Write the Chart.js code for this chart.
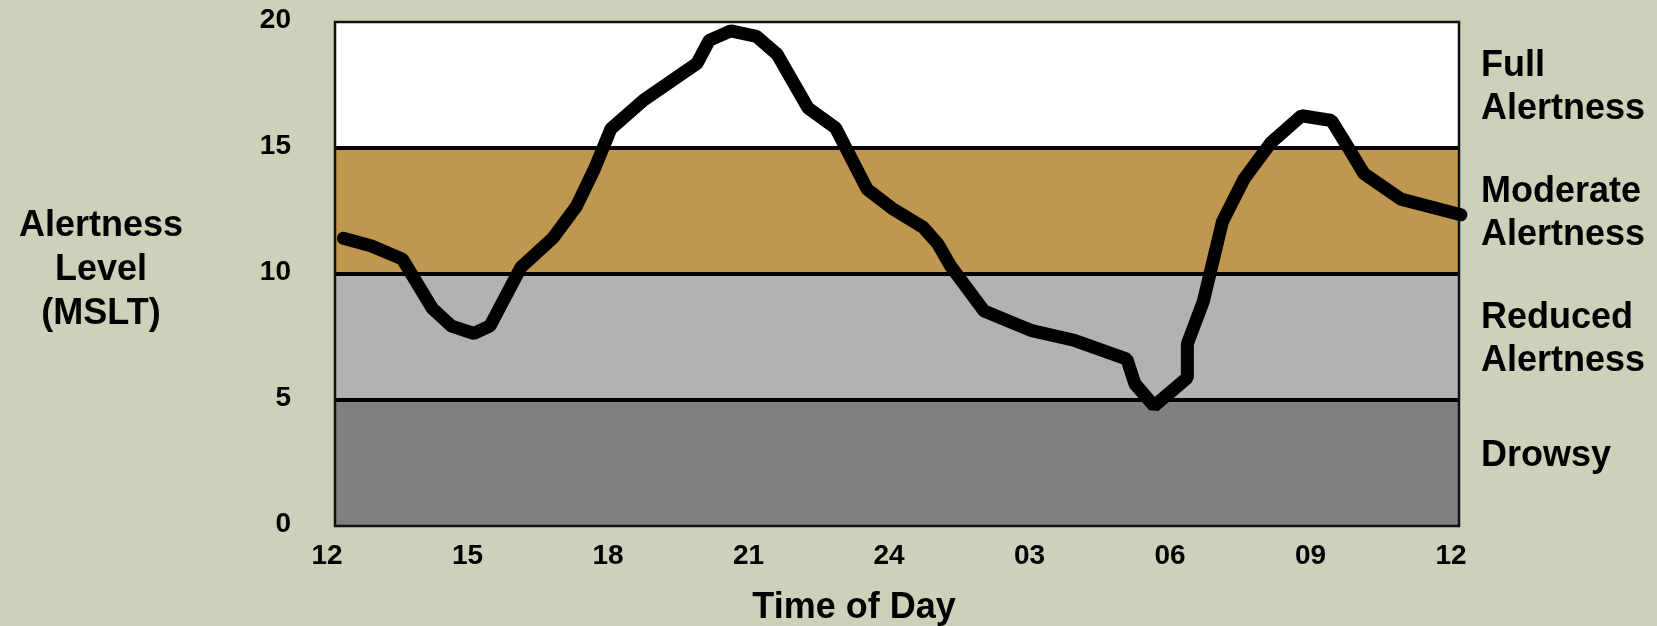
<!DOCTYPE html>
<html>
<head>
<meta charset="utf-8">
<script src="https://cdn.jsdelivr.net/npm/chart.js@4.4.1/dist/chart.umd.min.js"></script>
<style>
  html, body { margin: 0; padding: 0; background: #CDD1BA; }
  canvas { display: block; }
</style>
</head>
<body>
<canvas id="alertChart" width="1657" height="626"></canvas>
<script>
// Clock hour of each reading (12 = noon, 24 = midnight, 36 = next noon)
const hours = [12.18, 12.78, 13.44, 14.08, 14.49, 14.97, 15.31, 15.97, 16.66, 17.15,
               17.55, 17.89, 18.59, 19.73, 19.99, 20.45, 21.00, 21.44, 22.10, 22.69,
               23.36, 23.89, 24.56, 24.87, 25.15, 25.86, 26.88, 27.80, 28.91, 29.08,
               29.49, 30.20, 30.20, 30.54, 30.95, 31.41, 31.98, 32.64, 33.28, 33.64,
               33.97, 34.76, 36.04];
// Alertness level (MSLT) at each reading
const alertness = [11.42, 11.11, 10.59, 8.63, 7.93, 7.64, 7.94, 10.27, 11.44, 12.67,
                   14.21, 15.76, 16.90, 18.36, 19.27, 19.65, 19.43, 18.72, 16.59, 15.79,
                   13.37, 12.61, 11.85, 11.20, 10.30, 8.53, 7.75, 7.36, 6.62, 5.64,
                   4.76, 5.88, 7.23, 8.91, 12.08, 13.77, 15.20, 16.28, 16.09, 15.00,
                   13.98, 12.97, 12.35];

const tickHours = [12, 15, 18, 21, 24, 27, 30, 33, 36];
const tickLabels = ['12', '15', '18', '21', '24', '03', '06', '09', '12'];
const levelTicks = [0, 5, 10, 15, 20];

// Alertness zones
const bandLow = [0, 5, 10, 15];
const bandHigh = [5, 10, 15, 20];
const bandColors = ['#808080', '#B2B2B2', '#C0974F', '#FFFFFF'];
const bandLabels = [['Drowsy'], ['Reduced', 'Alertness'], ['Moderate', 'Alertness'], ['Full', 'Alertness']];

const yTitleLines = ['Alertness', 'Level', '(MSLT)'];
const xTitleText = 'Time of Day';

const FONT = '"Liberation Sans", Arial, sans-serif';

const zonePlugin = {
  id: 'zones',
  beforeDraw(chart) {
    const { ctx, chartArea: a, scales: { y } } = chart;
    ctx.save();
    bandLow.forEach((lo, i) => {
      const top = y.getPixelForValue(bandHigh[i]);
      const bottom = y.getPixelForValue(lo);
      ctx.fillStyle = bandColors[i];
      ctx.fillRect(a.left, top, a.right - a.left, bottom - top);
    });
    ctx.restore();
  },
  beforeDatasetsDraw(chart) {
    const { ctx, chartArea: a } = chart;
    ctx.save();
    ctx.strokeStyle = '#111111';
    ctx.lineWidth = 2.5;
    ctx.strokeRect(a.left, a.top, a.right - a.left, a.bottom - a.top);
    ctx.restore();
  },
  afterDraw(chart) {
    const { ctx, chartArea: a, scales: { y } } = chart;
    const lineH = 43;
    const capHalf = 12.9;
    const singleLineLift = 10;
    ctx.save();
    ctx.fillStyle = '#000000';
    ctx.font = 'bold 36px ' + FONT;
    ctx.textBaseline = 'alphabetic';

    // zone names to the right of the plot
    ctx.textAlign = 'left';
    bandLabels.forEach((lines, i) => {
      let cy = y.getPixelForValue((bandLow[i] + bandHigh[i]) / 2);
      if (lines.length === 1) cy -= singleLineLift;
      const first = cy - (lines.length - 1) * lineH / 2;
      lines.forEach((t, k) => ctx.fillText(t, a.right + 22, first + k * lineH + capHalf));
    });

    // vertical axis title
    ctx.textAlign = 'center';
    const titleH = 44;
    const cy = (a.top + a.bottom) / 2 - 7;
    const first = cy - (yTitleLines.length - 1) * titleH / 2;
    yTitleLines.forEach((t, k) => ctx.fillText(t, 101, first + k * titleH + capHalf));

    // horizontal axis title
    ctx.fillText(xTitleText, (a.left + a.right) / 2 - 43, 618);
    ctx.restore();
  }
};

new Chart(document.getElementById('alertChart'), {
  type: 'line',
  data: {
    datasets: [{
      data: hours.map((h, i) => ({ x: h, y: alertness[i] })),
      borderColor: '#000000',
      borderWidth: 13,
      borderCapStyle: 'round',
      borderJoinStyle: 'bevel',
      pointRadius: 0,
      tension: 0,
      fill: false,
      clip: false
    }]
  },
  options: {
    responsive: false,
    devicePixelRatio: 1,
    animation: false,
    layout: { padding: { top: 22, right: 198, bottom: 0, left: 0 } },
    plugins: { legend: { display: false }, tooltip: { enabled: false } },
    scales: {
      x: {
        type: 'linear',
        min: 12,
        max: 36,
        afterBuildTicks(scale) { scale.ticks = tickHours.map(v => ({ value: v })); },
        afterFit(scale) {
          scale.height = 100;
          scale.paddingLeft = 0;
          scale.paddingRight = 0;
        },
        grid: { display: false, drawTicks: false },
        border: { display: false },
        ticks: {
          autoSkip: false,
          maxRotation: 0,
          minRotation: 0,
          padding: 13,
          labelOffset: -8,
          color: '#000000',
          font: { family: FONT, size: 28, weight: 'bold' },
          callback: (v) => tickLabels[tickHours.indexOf(v)]
        }
      },
      y: {
        min: 0,
        max: 20,
        afterBuildTicks(scale) { scale.ticks = levelTicks.map(v => ({ value: v })); },
        afterFit(scale) {
          scale.width = 335;
          scale.paddingTop = 0;
          scale.paddingBottom = 0;
        },
        grid: {
          drawTicks: false,
          lineWidth: 4,
          color: (ctx) => (ctx.tick && (ctx.tick.value === 0 || ctx.tick.value === 20)) ? 'rgba(0,0,0,0)' : '#000000'
        },
        border: { display: false },
        ticks: {
          padding: 44,
          labelOffset: -2,
          color: '#000000',
          font: { family: FONT, size: 28, weight: 'bold' }
        }
      }
    }
  },
  plugins: [zonePlugin]
});
</script>
</body>
</html>
